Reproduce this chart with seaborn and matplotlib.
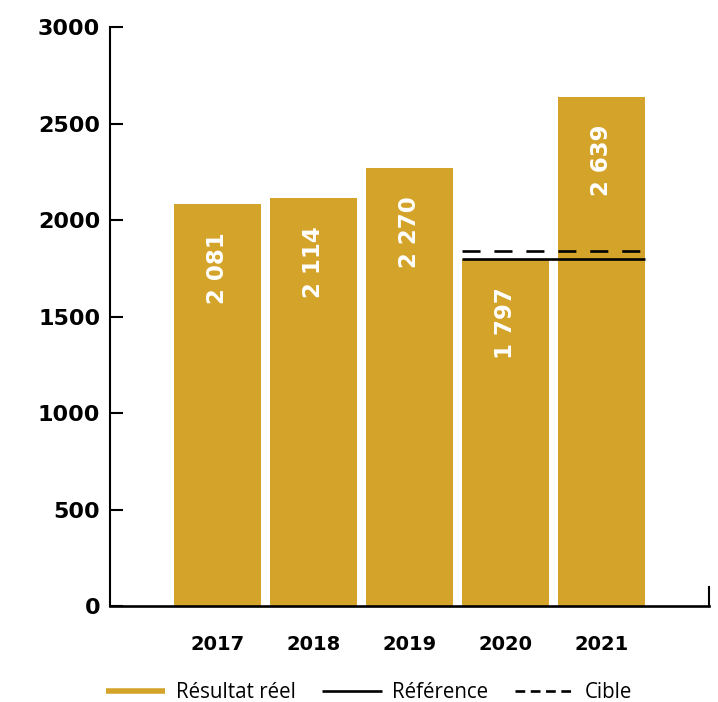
import matplotlib
matplotlib.use("Agg")
import matplotlib.pyplot as plt
import seaborn as sns
import pandas as pd
from matplotlib.lines import Line2D

years = ["2017", "2018", "2019", "2020", "2021"]
values = [2081, 2114, 2270, 1797, 2639]
bar_labels = ["2 081", "2 114", "2 270", "1 797", "2 639"]
reference_value = 1797
target_value = 1840
yticks = [0, 500, 1000, 1500, 2000, 2500, 3000]
legend_labels = ["Résultat réel", "Référence", "Cible"]

GOLD = "#D4A32A"

sns.set_theme(style="white")
plt.rcParams["font.family"] = ["DejaVu Sans"]
plt.rcParams["lines.scale_dashes"] = False

df = pd.DataFrame({"year": years, "value": values})

fig = plt.figure(figsize=(7.18, 7.02), dpi=100)
ax = fig.add_axes([110 / 718, 1 - 606 / 702, 599 / 718, 579 / 702])

width = 0.906
sns.barplot(data=df, x="year", y="value", color=GOLD, saturation=1,
            width=width, ax=ax, edgecolor="none")

x0 = 3 - width / 2
x1 = 4 + width / 2
ax.plot([x0, x1], [reference_value, reference_value], color="black", lw=1.9,
        solid_capstyle="butt")
ax.plot([x0, x1], [target_value, target_value], color="black", lw=1.9,
        dashes=(13, 10))

for i, (v, lab) in enumerate(zip(values, bar_labels)):
    ax.annotate(lab, xy=(i, v), xytext=(0, -28), textcoords="offset pixels",
                rotation=90, ha="center", va="top", color="white",
                fontsize=16.5, fontweight="bold")

ax.set_xlim(-1.12, 5.12)
ax.set_ylim(0, 3000)
ax.set_yticks(yticks)
ax.set_yticklabels([str(t) for t in yticks], fontsize=16, fontweight="bold",
                   color="black")
ax.set_xticks(range(len(years)))
ax.set_xticklabels(years, fontsize=14, fontweight="bold", color="black")
ax.set_xlabel("")
ax.set_ylabel("")

ax.tick_params(axis="y", direction="in", length=9.5, width=1.5, pad=7,
               left=True, colors="black")
ax.tick_params(axis="x", length=0, pad=21)

ax.spines["top"].set_visible(False)
ax.spines["left"].set_color("black")
ax.spines["left"].set_linewidth(1.5)
ax.spines["bottom"].set_color("black")
ax.spines["bottom"].set_linewidth(1.9)
ax.spines["right"].set_color("black")
ax.spines["right"].set_linewidth(1.5)
ax.spines["right"].set_bounds(0, 100)
ax.grid(False)

handles = [
    Line2D([], [], color=GOLD, lw=4, solid_capstyle="butt"),
    Line2D([], [], color="black", lw=1.9, solid_capstyle="butt"),
    Line2D([], [], color="black", lw=1.9, dashes=(7, 4)),
]
fig.legend(handles, legend_labels, loc="center",
           bbox_to_anchor=(369 / 718, 9 / 702), ncol=3, frameon=False,
           prop={"family": "Open Sans", "size": 14.8}, labelcolor="black",
           handlelength=2.9, handletextpad=0.5, columnspacing=1.3,
           borderaxespad=0, borderpad=0)

fig.savefig("out.png", dpi=100)
